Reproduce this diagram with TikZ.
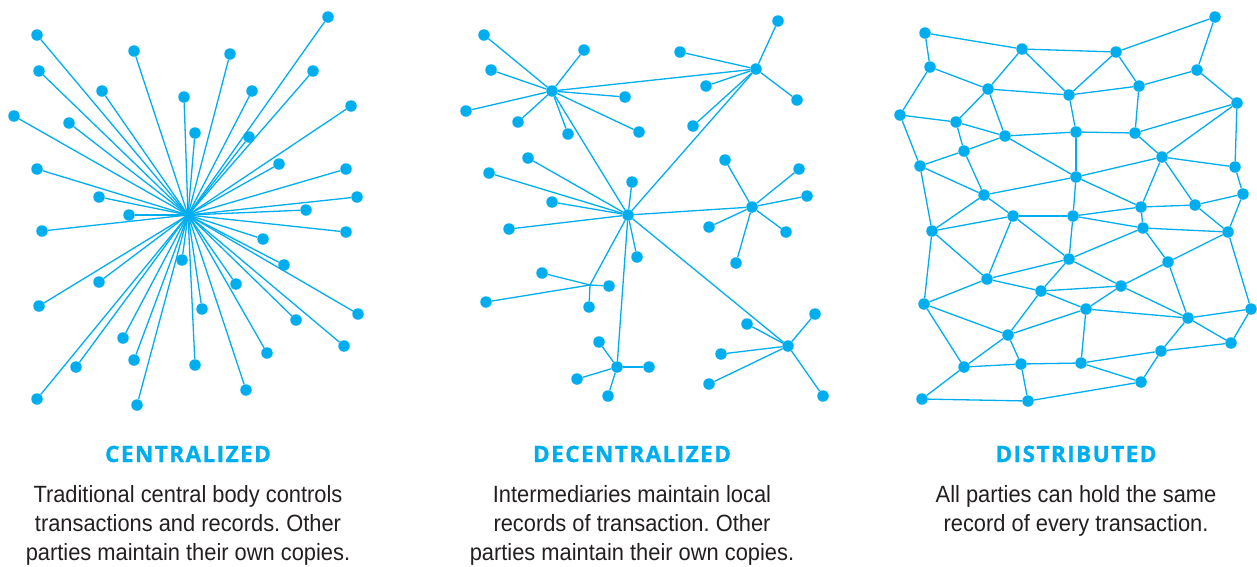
\documentclass[tikz,border=0pt]{standalone}
\usepackage{fontspec}
\setmainfont{Liberation Sans}[FakeStretch=0.93]
\newfontfamily\headfont{Open Sans}[LetterSpace=6.5,FakeBold=1.2]
\usetikzlibrary{positioning}

\definecolor{netblue}{HTML}{00AEEF}
\definecolor{bodygray}{HTML}{231F20}

\tikzset{
  dot/.style={circle,fill=netblue,inner sep=0pt,minimum size=11.5pt},
  link/.style={draw=netblue,line width=1.3pt},
  heading/.style={font=\headfont\bfseries\fontsize{22.5}{26}\selectfont,text=netblue,anchor=base,inner sep=0pt},
  caption/.style={font=\fontsize{23.5}{29}\selectfont,text=bodygray,align=center,inner sep=0pt}
}

\begin{document}
\frenchspacing
\begin{tikzpicture}[x=1pt,y=-1pt]
\useasboundingbox (0,0) rectangle (1257,566);

% centralized
\coordinate (cc) at (188,215);
\foreach \n/\x/\y in {1/37/35, 2/134/51, 3/230/54, 4/328/17, 5/39/71, 6/102/91,
  7/184/97, 8/252/91, 9/313/71, 10/14/116, 11/69/123, 12/195/133, 13/249/137,
  14/351/106, 15/37/169, 16/279/164, 17/346/169, 18/99/197, 19/129/215,
  20/357/197, 21/306/210, 22/42/231, 23/346/232, 24/263/239, 25/182/260,
  26/284/265, 27/99/282, 28/39/306, 29/236/284, 30/202/309, 31/358/314,
  32/296/320, 33/123/338, 34/344/346, 35/76/367, 36/134/360, 37/195/365,
  38/267/353, 39/246/390, 40/37/399, 41/137/405}
{
  \node[dot] (c\n) at (\x,\y) {};
  \draw[link] (cc) -- (c\n);
}

% decentralized
\node[dot] (da) at (552,91) {};
\node[dot] (db) at (756,69) {};
\node[dot] (dc) at (628,215) {};
\node[dot] (dd) at (617,367) {};
\node[dot] (de) at (752,207) {};
\node[dot] (df) at (788,346) {};
\coordinate (dj) at (590,285);
\draw[link] (da) -- (db) (da) -- (dc) (db) -- (dc);
\draw[link] (dc) -- (de) (dc) -- (df) (dc) -- (dd) (dc) -- (dj);
\foreach \h/\x/\y [count=\i] in {da/484/35, da/584/50, da/491/70, da/466/111,
  da/518/122, da/568/134, da/625/97, da/639/132,
  db/778/21, db/680/52, db/706/86, db/693/126, db/797/100,
  dc/528/158, dc/489/173, dc/552/202, dc/509/229, dc/632/182, dc/637/257,
  dj/542/273, dj/609/286, dj/589/307, dj/486/302,
  dd/599/342, dd/577/379, dd/608/396, dd/649/367,
  de/725/160, de/799/169, de/807/196, de/709/227, de/786/232, de/736/263,
  df/747/324, df/815/314, df/721/354, df/709/384, df/823/396}
{
  \node[dot] (dl\i) at (\x,\y) {};
  \draw[link] (\h) -- (dl\i);
}

% distributed
\foreach \n/\x/\y in {1/925/33, 2/1022/49, 3/930/67, 4/988/89, 5/1069/95,
  6/900/115, 7/956/122, 8/1005/136, 9/1076/132, 10/964/151, 11/920/166,
  12/1076/177, 13/984/195, 14/1215/17, 15/1116/52, 16/1139/86, 17/1197/70,
  18/1237/103, 19/1135/133, 20/1162/157, 21/1235/167, 22/1243/194,
  23/1141/207, 24/1195/205, 25/932/231, 26/1013/216, 27/1073/216,
  28/1069/259, 29/987/279, 30/1041/291, 31/924/304, 32/1008/335,
  33/964/367, 34/1021/364, 35/1081/363, 36/922/399, 37/1028/401,
  38/1143/228, 39/1228/232, 40/1168/262, 41/1121/286, 42/1086/309,
  43/1188/318, 44/1251/309, 45/1231/343, 46/1161/351, 47/1141/382}
  \node[dot] (p\n) at (\x,\y) {};
\foreach \a/\b in {1/2, 1/3, 2/4, 2/5, 2/15, 3/4, 3/6, 4/5, 4/7, 4/8, 6/7,
  6/11, 7/8, 7/10, 8/9, 8/10, 8/12, 10/11, 10/13, 11/13, 11/25, 13/12, 5/9,
  9/12, 5/15, 5/16, 14/15, 14/17, 15/16, 16/17, 17/18, 16/19, 9/19, 18/19,
  19/20, 18/20, 18/21, 20/21, 12/20, 20/23, 20/24, 21/22, 12/23, 23/24,
  22/24, 24/39, 22/39, 12/27, 13/25, 13/26, 25/26, 26/27, 26/29, 26/28,
  25/29, 25/31, 27/28, 28/29, 29/30, 29/31, 28/30, 28/38, 28/41, 30/41,
  30/42, 31/32, 31/33, 30/32, 32/42, 32/33, 32/34, 33/34, 33/36, 34/35,
  34/37, 36/37, 37/47, 23/27, 23/38, 27/38, 38/39, 38/40, 39/40, 40/41,
  41/42, 41/43, 42/43, 35/42, 40/43, 39/44, 43/44, 43/45, 44/45, 43/46,
  45/46, 35/46, 35/47, 46/47}
  \draw[link] (p\a) -- (p\b);

% labels
\node[heading] (headc) at (188,462) {CENTRALIZED};
\node[heading] (headd) at (632,462) {DECENTRALIZED};
\node[heading] (headp) at (1076,462) {DISTRIBUTED};
\node[caption,below=23pt of headc.base] (textc) {Traditional central body controls\\transactions and records. Other\\parties maintain their own copies.};
\node[caption,below=23pt of headd.base] (textd) {Intermediaries maintain local\\records of transaction. Other\\parties maintain their own copies.};
\node[caption,below=23pt of headp.base] (textp) {All parties can hold the same\\record of every transaction.};
\end{tikzpicture}
\end{document}
